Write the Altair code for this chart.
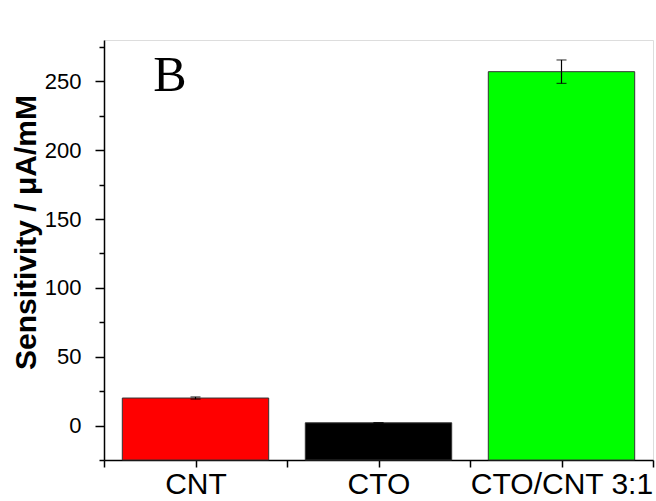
import altair as alt
import pandas as pd

categories = ["CNT", "CTO", "CTO/CNT 3:1"]
positions = [1, 2, 3]
sensitivity = [20.0, 2.0, 257.0]
errors = [0.8, 0.0, 8.5]
colors = ["#ff0000", "#000000", "#00ff00"]

y_min, y_max = -25, 280
y_tick_values = [-25, 0, 25, 50, 75, 100, 125, 150, 175, 200, 225, 250, 275]
x_tick_values = [0.5, 1, 1.5, 2, 2.5, 3, 3.5]

panel_label = ["B"]
panel_label_x = [0.86]
panel_label_y = [254]

df = pd.DataFrame({
    "cat": categories,
    "pos": positions,
    "val": sensitivity,
    "err": errors,
    "color": colors,
})
df["base"] = y_min
df["lo"] = df["val"] - df["err"]
df["hi"] = df["val"] + df["err"]
df["left"] = df["pos"] - 0.4
df["right"] = df["pos"] + 0.4

label_expr = " : ".join(
    [f"datum.value == {p} ? '{c}'" for p, c in zip(positions, categories)]
) + " : ''"

x_scale = alt.Scale(domain=[0.5, 3.5], nice=False, zero=False)
y_scale = alt.Scale(domain=[y_min, y_max], nice=False, zero=False)

x_axis = alt.Axis(
    values=x_tick_values, tickCount=50, labelExpr=label_expr, title=None, grid=False,
    tickSize=7, tickColor="black", tickWidth=1.5, domainColor="black", domainWidth=1.5,
    labelFont="Liberation Sans", labelFontSize=30, labelColor="black",
    labelPadding=2, labelFlush=False, labelOverlap=False, labelLimit=0,
)
y_axis = alt.Axis(
    values=y_tick_values, tickCount=50,
    labelExpr="datum.value % 50 === 0 ? datum.label : ''",
    labelOverlap=False,
    tickSize={"condition": {"test": "datum.value % 50 === 0", "value": 9}, "value": 5},
    title="Sensitivity / μA/mM", grid=False,
    tickColor="black", tickWidth=1.5, domainColor="black", domainWidth=1.5,
    labelFont="Liberation Sans", labelFontSize=22, labelColor="black", labelPadding=14,
    titleFont="Liberation Sans", titleFontSize=30, titleFontWeight="bold",
    titleColor="black", titleX=-69, titleY=192, titleAlign="center",
    titleBaseline="alphabetic", titleAngle=270,
)

base = alt.Chart(df)

bars = base.mark_bar(stroke="#333333", strokeWidth=1).encode(
    x=alt.X("left:Q", scale=x_scale, axis=x_axis),
    x2="right:Q",
    y=alt.Y("val:Q", scale=y_scale, axis=y_axis),
    y2="base:Q",
    color=alt.Color("color:N", scale=None),
)

err_rule = base.mark_rule(color="black", strokeWidth=1.2).encode(
    x="pos:Q", y="lo:Q", y2="hi:Q"
)
err_top = base.mark_tick(color="black", thickness=1.2, size=10, orient="horizontal").encode(
    x="pos:Q", y="hi:Q"
)
err_bot = base.mark_tick(color="black", thickness=1.2, size=10, orient="horizontal").encode(
    x="pos:Q", y="lo:Q"
)

ann = alt.Chart(pd.DataFrame({"t": panel_label, "x": panel_label_x, "y": panel_label_y})).mark_text(
    font="Liberation Serif", fontSize=50, color="black", align="center", baseline="middle"
).encode(x="x:Q", y="y:Q", text="t:N")

chart = alt.layer(bars, err_rule, err_top, err_bot, ann).properties(
    width=549, height=420,
    autosize=alt.AutoSizeParams(type="none"),
    padding={"left": 104, "top": 40, "right": 3, "bottom": 41},
).configure_view(stroke="black", strokeWidth=1.5).configure(background="white")

chart.save("out.html", embed_options={"renderer": "svg", "actions": False})
